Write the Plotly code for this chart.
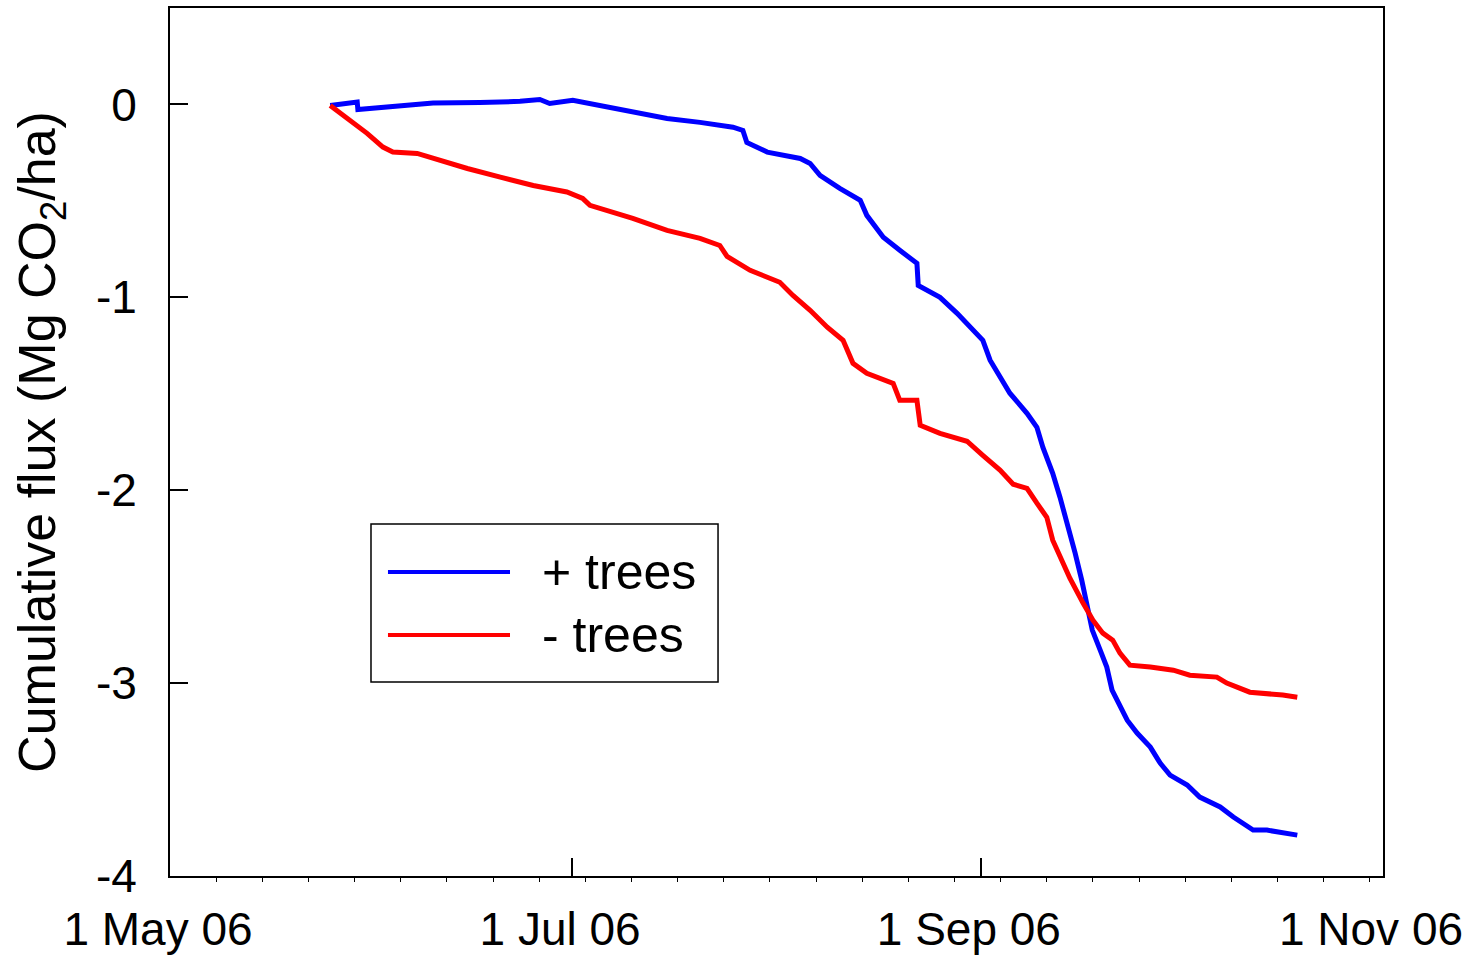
import pandas as pd
import plotly.graph_objects as go

start_date = "2006-05-01"

# days after 1 May 2006, cumulative flux (Mg CO2/ha)
days_plus = [24.3, 28.1, 28.4, 28.5, 31.9, 39.9, 47.0, 53.1, 56.1, 57.6, 61.1, 65.2, 70.2, 75.4,
             80.4, 85.4, 86.9, 87.5, 90.6, 93.0, 95.6, 97.1, 98.6, 101.6, 104.7, 105.7, 108.2,
             110.7, 113.3, 113.5, 116.8, 119.4, 121.8, 123.3, 124.4, 125.9, 127.4, 130.0, 131.5,
             132.4, 133.9, 135.0, 136.1, 137.3, 138.3, 139.1, 139.9, 141.1, 142.1, 142.9, 144.1,
             145.2, 146.7, 148.7, 150.2, 151.7, 154.3, 156.2, 159.3, 161.3, 164.3, 166.4, 171.0]
flux_plus = [-0.005, 0.012, 0.012, -0.026, -0.016, 0.007, 0.010, 0.016, 0.026, 0.005, 0.021, -0.005,
             -0.040, -0.073, -0.093, -0.118, -0.135, -0.197, -0.247, -0.264, -0.280, -0.306, -0.368,
             -0.435, -0.497, -0.575, -0.689, -0.756, -0.824, -0.938, -1.000, -1.083, -1.171, -1.223,
             -1.326, -1.415, -1.497, -1.601, -1.674, -1.777, -1.912, -2.036, -2.171, -2.326, -2.466,
             -2.606, -2.725, -2.829, -2.917, -3.036, -3.124, -3.192, -3.259, -3.332, -3.415, -3.477,
             -3.528, -3.591, -3.642, -3.694, -3.762, -3.762, -3.788]

days_minus = [24.3, 27.8, 29.9, 32.3, 33.8, 37.5, 39.9, 45.1, 50.1, 55.1, 60.2, 62.6, 63.7, 70.2,
              75.4, 80.4, 83.4, 84.5, 88.0, 92.5, 94.5, 97.1, 99.7, 102.1, 103.6, 105.7, 109.7,
              110.7, 113.3, 113.8, 116.8, 120.9, 123.3, 125.9, 127.9, 130.0, 131.5, 133.0, 133.9,
              135.0, 136.5, 138.5, 140.0, 141.5, 143.0, 144.1, 145.6, 148.7, 152.2, 154.7, 158.8,
              160.3, 163.8, 168.8, 171.0]
flux_minus = [-0.005, -0.092, -0.150, -0.221, -0.247, -0.254, -0.280, -0.332, -0.377, -0.420, -0.454,
              -0.487, -0.523, -0.591, -0.653, -0.694, -0.731, -0.788, -0.860, -0.922, -0.990, -1.067,
              -1.155, -1.223, -1.342, -1.394, -1.446, -1.534, -1.534, -1.663, -1.705, -1.746, -1.819,
              -1.896, -1.969, -1.990, -2.067, -2.140, -2.259, -2.347, -2.456, -2.585, -2.674, -2.741,
              -2.777, -2.845, -2.907, -2.917, -2.933, -2.959, -2.969, -3.000, -3.047, -3.062, -3.073]

series_names = ["+ trees", "- trees"]
series_colors = ["#0000FF", "#FF0000"]

x_tick_vals = ["2006-05-01", "2006-07-01", "2006-09-01", "2006-11-01"]
x_tick_text = ["1 May 06", "1 Jul 06", "1 Sep 06", "1 Nov 06"]
y_tick_vals = [0, -1, -2, -3, -4]

t0 = pd.Timestamp(start_date)
dates_plus = t0 + pd.to_timedelta(days_plus, unit="D")
dates_minus = t0 + pd.to_timedelta(days_minus, unit="D")

FONT = "Liberation Sans, Arial, sans-serif"

fig = go.Figure()
fig.add_trace(go.Scatter(x=dates_plus, y=flux_plus, mode="lines", name=series_names[0],
                         line=dict(color=series_colors[0], width=5), showlegend=False))
fig.add_trace(go.Scatter(x=dates_minus, y=flux_minus, mode="lines", name=series_names[1],
                         line=dict(color=series_colors[1], width=5), showlegend=False))

fig.update_layout(
    width=1477, height=955,
    margin=dict(l=170, r=94, t=8, b=79),
    paper_bgcolor="white", plot_bgcolor="white",
    font=dict(family=FONT, color="black"),
)
fig.update_xaxes(
    automargin=False,
    range=["2006-05-01", "2006-11-01"],
    tickmode="array", tickvals=x_tick_vals, ticktext=x_tick_text,
    ticks="inside", ticklen=18, tickwidth=1.5, tickcolor="black",
    tickfont=dict(size=46, family=FONT, color="black"),
    ticklabelstandoff=12, ticklabelshift=-12,
    showline=True, linecolor="black", linewidth=2, mirror=True,
    showgrid=False, zeroline=False,
    minor=dict(ticks="outside", ticklen=4, tickwidth=1, tickcolor="black",
               tick0="2006-05-01", dtick=7 * 86400000, showgrid=False),
)
fig.update_yaxes(
    automargin=False,
    range=[-4, 0.5],
    tickmode="array", tickvals=y_tick_vals, ticktext=[str(v) for v in y_tick_vals],
    ticks="inside", ticklen=18, tickwidth=1.5, tickcolor="black",
    tickfont=dict(size=46, family=FONT, color="black"),
    ticklabelstandoff=22,
    showline=True, linecolor="black", linewidth=2, mirror=True,
    showgrid=False, zeroline=False,
    title=dict(text="Cumulative flux (Mg CO<sub>2</sub>/ha)",
               font=dict(size=52, family=FONT, color="black"), standoff=24),
)

# legend box drawn manually to match the long sample lines
fig.add_shape(type="rect", xref="paper", yref="paper", x0=0.1657, x1=0.4518, y0=0.2235, y1=0.4055,
              line=dict(color="black", width=1.5), fillcolor="white", layer="above")
legend_y = [0.3502, 0.2776]
for name, color, ly in zip(series_names, series_colors, legend_y):
    fig.add_shape(type="line", xref="paper", yref="paper", x0=0.1797, x1=0.2803, y0=ly, y1=ly,
                  line=dict(color=color, width=4), layer="above")
    fig.add_annotation(xref="paper", yref="paper", x=0.305, y=ly, text=name, showarrow=False,
                       xanchor="left", yanchor="middle",
                       font=dict(size=50, family=FONT, color="black"))

fig.write_html("out.html", config={"displayModeBar": False},
               post_script="document.body.style.margin='0px'; document.body.style.overflow='hidden';")
